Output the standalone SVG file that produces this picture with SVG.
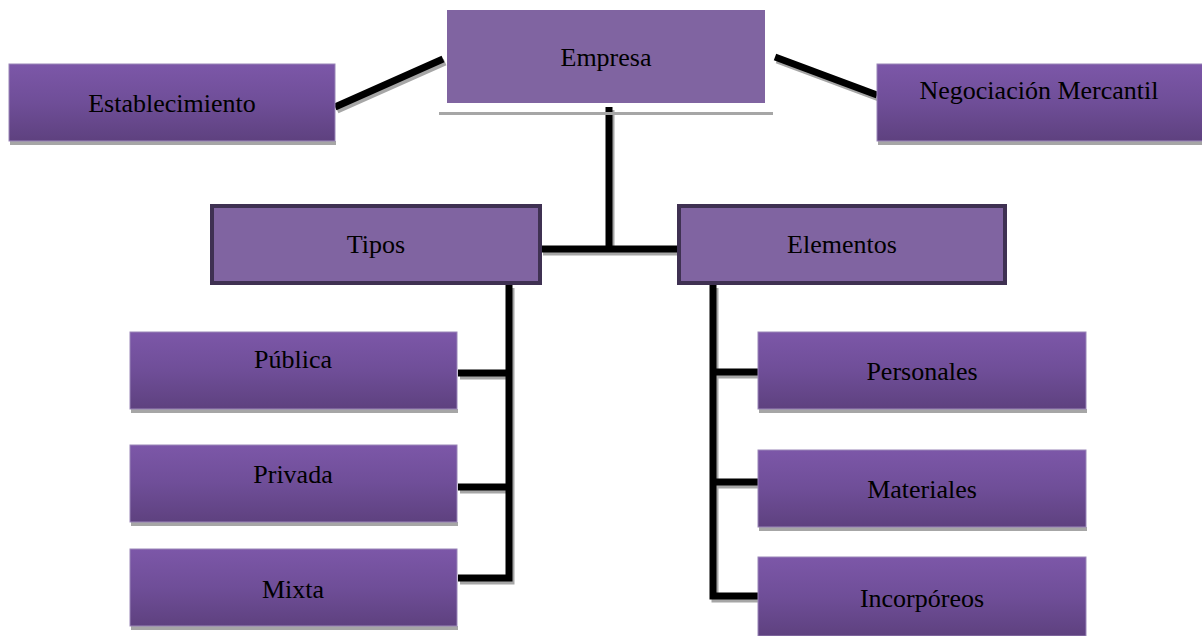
<svg xmlns="http://www.w3.org/2000/svg" width="1202" height="636" viewBox="0 0 1202 636">
<defs>
<linearGradient id="g" x1="0" y1="0" x2="0" y2="1">
<stop offset="0" stop-color="#7c57a8"/>
<stop offset="0.5" stop-color="#6f4e98"/>
<stop offset="1" stop-color="#5e417f"/>
</linearGradient>
</defs>
<style>
.box{fill:url(#g);stroke:#9a86b8;stroke-width:1}
.shd{fill:#a6a6a6}
.flat{fill:#8064a1}
.brd{fill:#8064a1;stroke:#3f3152;stroke-width:4}
.t{font-family:"Liberation Serif","Times New Roman",serif;font-size:26px;fill:#000;text-anchor:middle}
.ln{stroke:#000;stroke-width:7;fill:none;stroke-linecap:butt}
.ls{stroke:#a6a6a6;stroke-width:7;fill:none}
</style>
<rect width="1202" height="636" fill="#fff"/>
<g id="connectors">
<g transform="translate(2,3)">
<line class="ls" x1="335" y1="107" x2="443" y2="59"/>
<line class="ls" x1="775" y1="57" x2="877" y2="95"/>
<line class="ls" x1="609" y1="107" x2="609" y2="249"/>
<line class="ls" x1="541" y1="249" x2="677" y2="249"/>
<polyline class="ls" points="509,285 509,578 458,578"/>
<line class="ls" x1="458" y1="373" x2="509" y2="373"/>
<line class="ls" x1="458" y1="487" x2="509" y2="487"/>
<polyline class="ls" points="713,285 713,596 758,596"/>
<line class="ls" x1="713" y1="372" x2="758" y2="372"/>
<line class="ls" x1="713" y1="482" x2="758" y2="482"/>
</g>
<line class="ln" x1="335" y1="107" x2="443" y2="59"/>
<line class="ln" x1="775" y1="57" x2="877" y2="95"/>
<line class="ln" x1="609" y1="107" x2="609" y2="249"/>
<line class="ln" x1="541" y1="249" x2="677" y2="249"/>
<polyline class="ln" points="509,285 509,578 458,578"/>
<line class="ln" x1="458" y1="373" x2="509" y2="373"/>
<line class="ln" x1="458" y1="487" x2="509" y2="487"/>
<polyline class="ln" points="713,285 713,596 758,596"/>
<line class="ln" x1="713" y1="372" x2="758" y2="372"/>
<line class="ln" x1="713" y1="482" x2="758" y2="482"/>
</g>
<g id="empresa">
<rect class="flat" x="447" y="10" width="318" height="93"/>
<rect class="shd" x="439" y="112" width="334" height="3"/>
<text class="t" x="606" y="66">Empresa</text>
</g>
<g id="establecimiento">
<rect class="shd" x="10" y="141" width="326" height="4"/>
<rect class="box" x="9" y="64" width="326" height="77"/>
<text class="t" x="172" y="112">Establecimiento</text>
</g>
<g id="negociacion">
<rect class="shd" x="878" y="141" width="324" height="4"/>
<rect class="box" x="877" y="64" width="326" height="77"/>
<text class="t" x="1039" y="99">Negociación Mercantil</text>
</g>
<g id="tipos">
<rect class="brd" x="212" y="206" width="328" height="77"/>
<text class="t" x="376" y="253">Tipos</text>
</g>
<g id="elementos">
<rect class="brd" x="679" y="206" width="326" height="77"/>
<text class="t" x="842" y="253">Elementos</text>
</g>
<g id="publica">
<rect class="shd" x="131" y="409" width="327" height="4"/>
<rect class="box" x="130" y="332" width="327" height="77"/>
<text class="t" x="293" y="368">Pública</text>
</g>
<g id="privada">
<rect class="shd" x="131" y="522" width="327" height="4"/>
<rect class="box" x="130" y="445" width="327" height="77"/>
<text class="t" x="293" y="483">Privada</text>
</g>
<g id="mixta">
<rect class="shd" x="131" y="626" width="327" height="4"/>
<rect class="box" x="130" y="549" width="327" height="77"/>
<text class="t" x="293" y="598">Mixta</text>
</g>
<g id="personales">
<rect class="shd" x="759" y="409" width="328" height="4"/>
<rect class="box" x="758" y="332" width="328" height="77"/>
<text class="t" x="922" y="380">Personales</text>
</g>
<g id="materiales">
<rect class="shd" x="759" y="527" width="328" height="4"/>
<rect class="box" x="758" y="450" width="328" height="77"/>
<text class="t" x="922" y="498">Materiales</text>
</g>
<g id="incorporeos">
<rect class="box" x="758" y="557" width="328" height="79"/>
<text class="t" x="922" y="607">Incorpóreos</text>
</g>
</svg>
